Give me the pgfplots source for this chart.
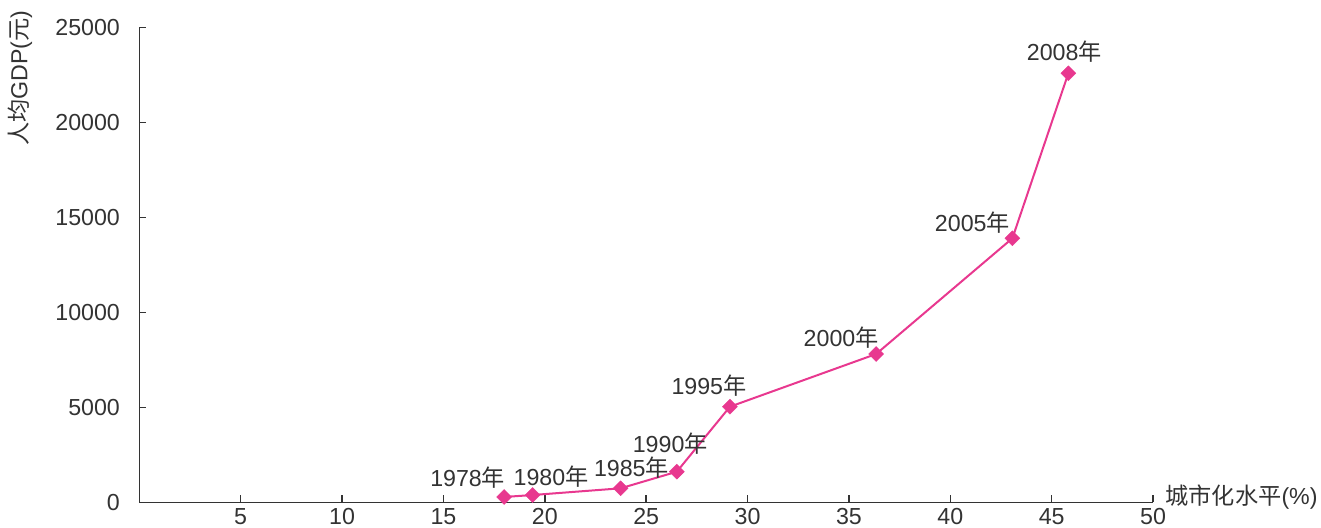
\documentclass[border=0pt]{standalone}
\usepackage{fontspec}
\setmainfont{Liberation Sans}
\newfontfamily\cjk{Noto Sans CJK SC}
\usepackage{pgfplots}
\usepackage{pgfplotstable}
\pgfplotsset{compat=1.18}
\definecolor{txt}{HTML}{333333}
\definecolor{pinkline}{HTML}{E8388F}

% urbanisation (%), GDP per head (yuan), year, label offsets (pt)
\pgfplotstableread{
x      y      yr    dx     dy
17.99  280    1978  -18.2  9.5
19.40  384    1980  9.2    9.0
23.74  737    1985  5.4    10.2
26.51  1611   1990  -3.3   13.8
29.13  5032   1995  -10.5  10.5
36.34  7805   2000  -17.5  8.0
43.06  13895  2005  -20.0  8.0
45.82  22579  2008  -2.0   10.8
}\urbdata

\begin{document}
\begin{tikzpicture}[font=\fontsize{11.6}{13.5}\selectfont, text=txt]
\begin{axis}[
    at={(0,0)}, anchor=south west,
    scale only axis, width=506.9pt, height=237.5pt,
    xmin=0, xmax=50, ymin=0, ymax=25000,
    axis lines=left,
    axis line style={-, draw=txt, line width=0.75pt},
    xtick={5,10,...,50},
    ytick={0,5000,...,25000},
    tick align=inside,
    major tick length=3.5pt,
    tick style={draw=txt, line width=0.75pt},
    scaled y ticks=false,
    /pgf/number format/1000 sep={},
    /pgf/number format/assume math mode=true,
    xticklabel style={anchor=north, inner sep=0pt, yshift=-3pt, text=txt},
    yticklabel style={anchor=east, inner sep=0pt, xshift=-9.5pt, text=txt},
    clip=false,
]
\addplot[
    color=pinkline, line width=1pt,
    mark=square*, mark size=2.65pt,
    mark options={rotate=45, fill=pinkline, draw=pinkline, line width=0.2pt},
    point meta=explicit symbolic,
    visualization depends on={\thisrow{dx} \as \dx},
    visualization depends on={\thisrow{dy} \as \dy},
    nodes near coords={\pgfplotspointmeta{\cjk 年}},
    every node near coord/.append style={anchor=center, inner sep=0pt,
        xshift={\dx pt}, yshift={\dy pt}, text=txt},
] table[x=x, y=y, meta=yr] {\urbdata};
\end{axis}
\node[rotate=90, anchor=east, inner sep=0pt] at (-59.65pt,246.15pt)
    {{\cjk 人均}GDP({\cjk 元})};
\node[anchor=west, inner sep=0pt] at (512.9pt,2.7pt)
    {{\cjk 城市化水平}(\%)};
\pgfresetboundingbox
\path[use as bounding box] (-69.65pt,-12.35pt) rectangle (590.85pt,251.15pt);
\end{tikzpicture}
\end{document}
